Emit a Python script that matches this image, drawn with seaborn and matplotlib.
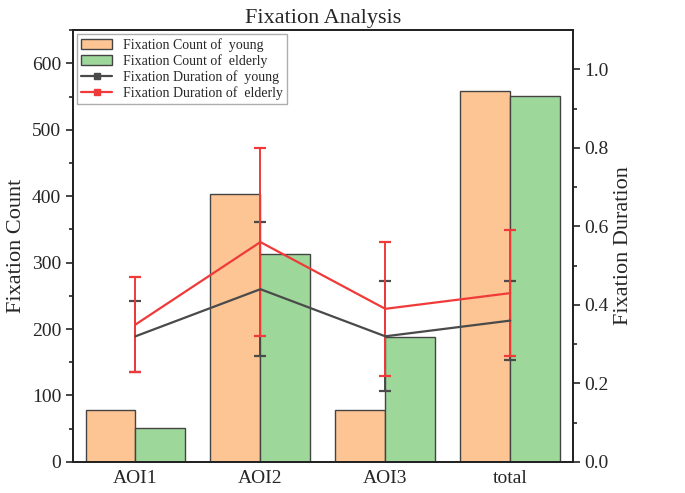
import matplotlib
matplotlib.use("Agg")
import matplotlib.pyplot as plt
import seaborn as sns
import pandas as pd
from matplotlib.patches import Patch
from matplotlib.lines import Line2D

categories = ["AOI1", "AOI2", "AOI3", "total"]
count_young = [78, 404, 78, 558]
count_elderly = [51, 313, 188, 551]
dur_young = [0.32, 0.44, 0.32, 0.36]
dur_young_err = [0.09, 0.17, 0.14, 0.10]
dur_elderly = [0.35, 0.56, 0.39, 0.43]
dur_elderly_err = [0.12, 0.24, 0.17, 0.16]

sns.set_style("ticks")
plt.rcParams['font.family'] = ['Liberation Serif', 'DejaVu Serif']

df = pd.DataFrame({
    "cat": categories * 2,
    "count": count_young + count_elderly,
    "group": ["young"] * 4 + ["elderly"] * 4,
})

fig = plt.figure(figsize=(6.85, 4.93), dpi=100)
ax = fig.add_axes([0.1066, 0.063, 0.7294, 0.876])

orange = "#FCC593"
green = "#9ED79A"
sns.barplot(data=df, x="cat", y="count", hue="group", palette=[orange, green],
            edgecolor="#444444", linewidth=1.0, saturation=1, width=0.8,
            legend=False, ax=ax)
ax.set_xlim(-0.5, 3.5)
ax.set_ylim(0, 650)
ax.set_yticks(range(0, 601, 100))
ax.set_yticks(range(50, 651, 100), minor=True)
ax.set_xlabel("")
ax.set_ylabel("Fixation Count", fontsize=16)
ax.tick_params(axis="both", labelsize=14, width=1.2, length=5)
ax.tick_params(axis="x", length=0, pad=6)
ax.tick_params(axis="y", which="minor", length=3, width=1.2)
for s in ax.spines.values():
    s.set_linewidth(1.3)
    s.set_color("#222222")
ax.set_title("Fixation Analysis", fontsize=16, pad=5)

ax2 = ax.twinx()
x = list(range(len(categories)))
black = "#4A4A4A"
red = "#F03A3A"
ax2.errorbar(x, dur_young, yerr=dur_young_err, color=black, lw=1.6,
             capsize=4, capthick=1.6, elinewidth=1.4)
ax2.errorbar(x, dur_elderly, yerr=dur_elderly_err, color=red, lw=1.6,
             capsize=4, capthick=1.6, elinewidth=1.4)
ax2.set_ylim(0, 1.1)
ax2.set_yticks([0, 0.2, 0.4, 0.6, 0.8, 1.0])
ax2.set_yticks([0.1, 0.3, 0.5, 0.7, 0.9], minor=True)
ax2.yaxis.set_major_formatter(matplotlib.ticker.FormatStrFormatter("%.1f"))
ax2.set_ylabel("Fixation Duration", fontsize=16)
ax2.tick_params(axis="y", labelsize=14, width=1.2, length=5)
ax2.tick_params(axis="y", which="minor", length=3, width=1.2)
for s in ax2.spines.values():
    s.set_linewidth(1.3)
    s.set_color("#222222")

handles = [
    Patch(facecolor=orange, edgecolor="#444444", label="Fixation Count of  young"),
    Patch(facecolor=green, edgecolor="#444444", label="Fixation Count of  elderly"),
    Line2D([], [], color=black, lw=1.6, marker="s", markersize=4, label="Fixation Duration of  young"),
    Line2D([], [], color=red, lw=1.6, marker="s", markersize=4, label="Fixation Duration of  elderly"),
]
leg = ax2.legend(handles=handles, loc="upper left", fontsize=10, frameon=True,
                 fancybox=False, edgecolor="#999999", borderaxespad=0.3,
                 handlelength=2.2, labelspacing=0.15, borderpad=0.3)
leg.get_frame().set_linewidth(1.0)

fig.savefig("out.png", dpi=100)
